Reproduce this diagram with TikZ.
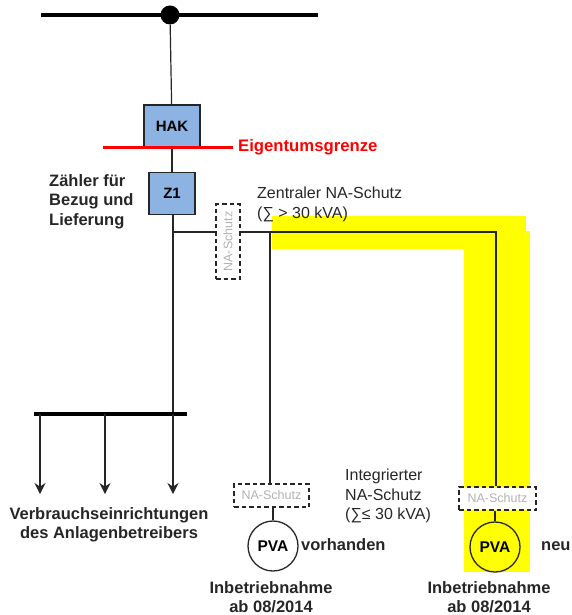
\documentclass[tikz,border=0pt]{standalone}
\usepackage{fontspec}
\setmainfont{Liberation Sans}
\usepackage{tikz}
\usetikzlibrary{arrows.meta}
\definecolor{kasten}{RGB}{141,179,226}
\definecolor{gelb}{RGB}{255,255,0}
\tikzset{
  kastenbox/.style={draw=black!85, line width=1.2pt, fill=kasten, minimum width=#1, minimum height=42pt, inner sep=0pt, font=\fontsize{15}{15}\selectfont\bfseries},
  schutzbox/.style={draw=black!85, line width=1.2pt, dash pattern=on 4.5pt off 3pt, fill=white, inner sep=0pt, text=black!30, font=\fontsize{12.5}{12.5}\selectfont},
  pvakreis/.style={draw=black!85, line width=1.3pt, circle, minimum size=50pt, inner sep=0pt, font=\fontsize{15.5}{15.5}\selectfont\bfseries},
  fett/.style={align=center, inner sep=0pt, text=black!85, font=\fontsize{16.5}{19.5}\selectfont\bfseries},
  normal/.style={align=left, inner sep=0pt, text=black!85, font=\fontsize{16}{19.5}\selectfont},
  leitung/.style={draw=black!85, line width=1.2pt},
  pfeil/.style={leitung, -{Stealth[length=11pt,width=11pt]}}
}
\begin{document}
\begin{tikzpicture}[x=1pt,y=-1pt]
\useasboundingbox (0,0) rectangle (571,615);
% gelbe Flaeche
\fill[gelb] (272,216) rectangle (526,249);
\fill[gelb] (464,231) -- (530,231) -- (530,572) -- (464,572) -- cycle;
% Netz
\draw[line width=3.5pt] (41,15) coordinate (netzl) -- (318,15) coordinate (netzr);
\node[circle, fill=black, minimum size=19pt, inner sep=0pt] (hub) at (170,15) {};
\node[kastenbox=56pt] (hak) at (172,126) {HAK};
\node[kastenbox=46pt] (z1) at (172,193.5) {Z1};
\draw[leitung] (hub) -- (hak);
\draw[leitung] (hak) -- (z1);
% Eigentumsgrenze
\coordinate (grenzel) at (103,147.5);
\coordinate (grenzer) at (233,147.5);
\draw[red, line width=2.4pt] (grenzel) -- (grenzer);
\node[anchor=west, inner sep=0pt, text=red, font=\fontsize{16.7}{16.7}\selectfont\bfseries] (eigentum) at (238,147) {Eigentumsgrenze};
\node[fett, align=left, anchor=north west] (zaehler) at (49,174) {Z\"ahler f\"ur\\Bezug und\\Lieferung};
% Abzweige
\coordinate (abzw) at (173,232);
\coordinate (abzwa) at (270,232);
\coordinate (abzwb) at (496,232);
\node[schutzbox, minimum width=24pt, minimum height=75pt] (nazentral) at (228,241.5) {\rotatebox{90}{NA-Schutz}};
\node[schutzbox, minimum width=75pt, minimum height=23pt] (naalt) at (271.5,495.5) {NA-Schutz};
\node[schutzbox, minimum width=77pt, minimum height=23pt] (naneu) at (497.5,498.5) {NA-Schutz};
\node[pvakreis] (pvaalt) at (273,546) {PVA};
\node[pvakreis, fill=gelb] (pvaneu) at (495,547) {PVA};
\draw[leitung] (abzw) -- (nazentral.west |- abzw);
\draw[leitung] (nazentral.east |- abzw) -- (abzwb) -- (naneu.north -| abzwb);
\draw[leitung] (abzwa) -- (naalt.north -| abzwa);
\draw[leitung] (naalt.south -| pvaalt) -- (pvaalt);
\draw[leitung] (naneu.south -| pvaneu) -- (pvaneu);
% Verbraucher
\coordinate (lastl) at (34,414);
\coordinate (lastr) at (187,414);
\draw[leitung] (z1.south -| abzw) -- (abzw |- lastl);
\draw[line width=4pt] (lastl) -- (lastr);
\foreach \name/\xpos in {a/40,b/105,c/173} {
  \coordinate (last\name) at (\xpos,414);
  \coordinate (ziel\name) at (\xpos,494);
  \draw[pfeil] (last\name) -- (ziel\name);
}
% Texte
\node[fett] (verbrauch) at (109,525) {Verbrauchseinrichtungen\\des Anlagenbetreibers};
\node[normal, anchor=north west] (zentral) at (257,187) {Zentraler NA-Schutz\\(∑ > 30 kVA)};
\node[normal, anchor=north west] (integriert) at (345,469) {Integrierter\\NA-Schutz\\(∑≤ 30 kVA)};
\node[fett, anchor=west] (vorhanden) at (301,545) {vorhanden};
\node[fett, anchor=west] (neu) at (541,546) {neu};
\node[fett] (ibnalt) at (271,597) {Inbetriebnahme\\ab 08/2014};
\node[fett] (ibnneu) at (489,597) {Inbetriebnahme\\ab 08/2014};
\end{tikzpicture}
\end{document}
